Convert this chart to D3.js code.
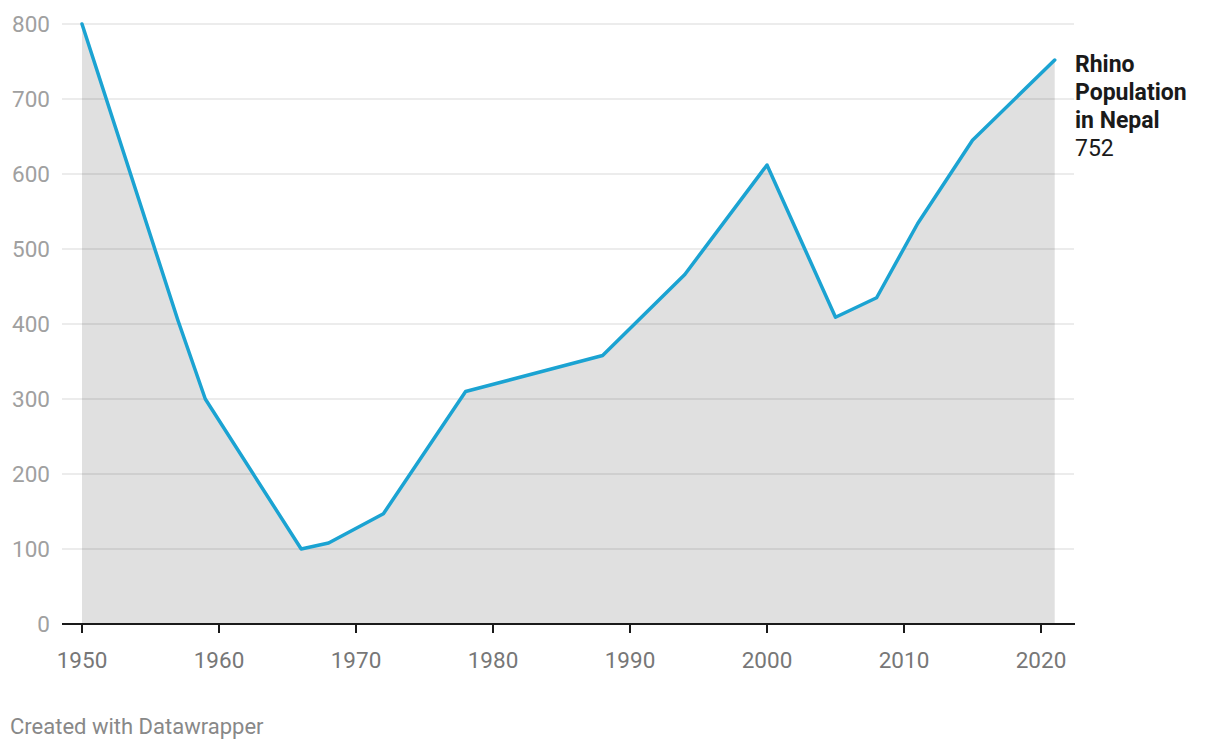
<!DOCTYPE html>
<html><head><meta charset="utf-8">
<script src="https://cdn.jsdelivr.net/npm/d3@7"></script>
<style>body{margin:0;background:#fff;font-family:Roboto,"Noto Sans",sans-serif;}</style>
</head><body>
<svg id="c" width="1220" height="750"></svg>
<script>
const years = [1950,1957,1959,1966,1968,1972,1978,1988,1994,2000,2005,2008,2011,2015,2021];
const population = [800,405,300,100,108,147,310,358,466,612,409,435,534,645,752];
const yTicks = [0,100,200,300,400,500,600,700,800];
const xTicks = [1950,1960,1970,1980,1990,2000,2010,2020];
const seriesLabel = ["Rhino","Population","in Nepal"];

const svg = d3.select("#c");
const x = d3.scaleLinear().domain([1950,2020]).range([82,1041]);
const y = d3.scaleLinear().domain([0,800]).range([624,24]);
const data = years.map((yr,i)=>({yr, v:population[i]}));

svg.append("path").datum(data)
  .attr("d", d3.area().x(d=>x(d.yr)).y0(y(0)).y1(d=>y(d.v)))
  .attr("fill","#e0e0e0");

const gy = svg.append("g");
yTicks.filter(t=>t>0).forEach(t=>{
  gy.append("line").attr("x1",62).attr("x2",1074).attr("y1",y(t)).attr("y2",y(t))
    .attr("stroke","#000").attr("stroke-opacity",0.1).attr("stroke-width",1.3);
});
yTicks.forEach(t=>{
  gy.append("text").attr("x",50).attr("y",y(t)+8).attr("text-anchor","end")
    .attr("font-size",22.5).attr("fill","#a0a0a0").text(t);
});

// x axis
svg.append("line").attr("x1",62).attr("x2",1075).attr("y1",624).attr("y2",624)
  .attr("stroke","#1a1a1a").attr("stroke-width",2);
xTicks.forEach(t=>{
  svg.append("line").attr("x1",x(t)).attr("x2",x(t)).attr("y1",624).attr("y2",633)
    .attr("stroke","#1a1a1a").attr("stroke-width",2);
  svg.append("text").attr("x",x(t)).attr("y",668).attr("text-anchor","middle")
    .attr("font-size",22.5).attr("fill","#777").text(t);
});

svg.append("path").datum(data)
  .attr("d", d3.line().x(d=>x(d.yr)).y(d=>y(d.v)))
  .attr("fill","none").attr("stroke","#1ba3d2").attr("stroke-width",3.5)
  .attr("stroke-linejoin","round").attr("stroke-linecap","round");

const lbl = svg.append("text").attr("x",1075).attr("font-size",23).attr("fill","#1a1a1a");
seriesLabel.forEach((s,i)=>{
  lbl.append("tspan").attr("x",1075).attr("y",72+i*28).attr("font-weight","bold").text(s);
});
lbl.append("tspan").attr("x",1075).attr("y",72+3*28).text(population[population.length-1]);

svg.append("text").attr("x",10).attr("y",734).attr("font-size",22).attr("fill","#888")
  .text("Created with Datawrapper");
</script>
</body></html>
